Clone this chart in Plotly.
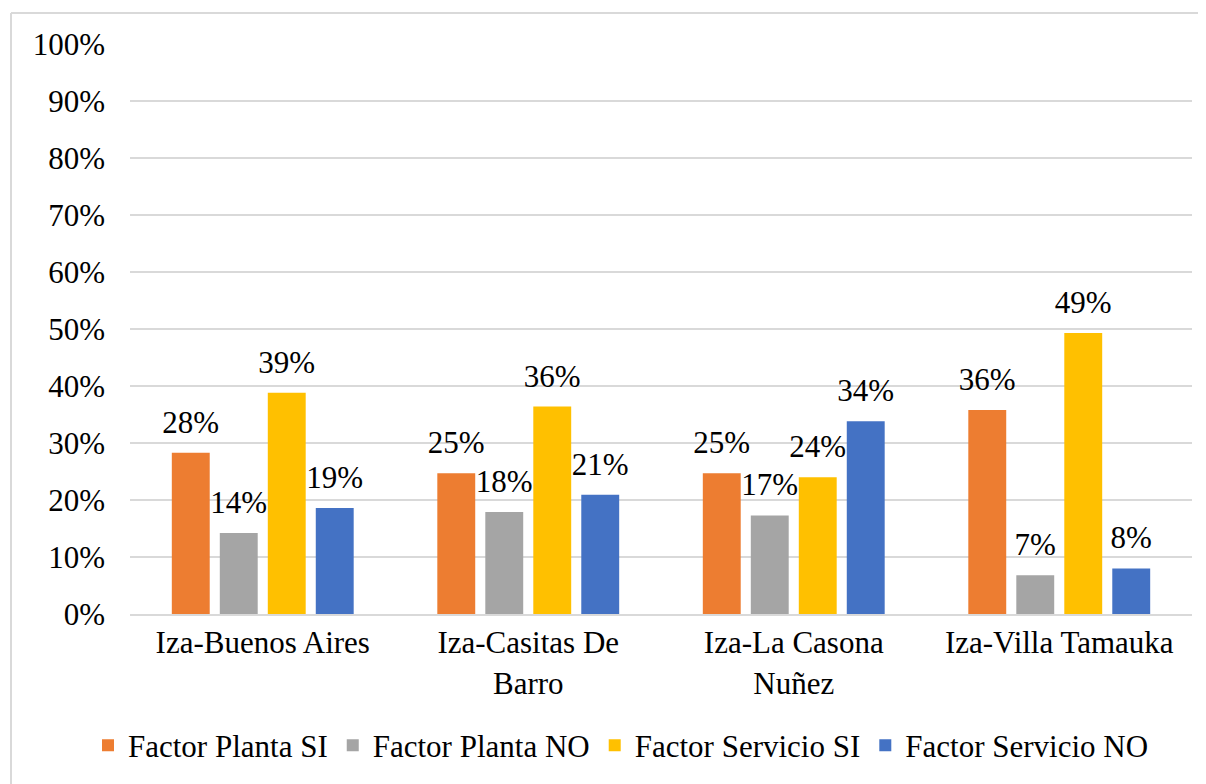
import plotly.graph_objects as go

categories = ["Iza-Buenos Aires", "Iza-Casitas De<br>Barro", "Iza-La Casona<br>Nuñez", "Iza-Villa Tamauka"]
series_names = ["Factor Planta SI", "Factor Planta NO", "Factor Servicio SI", "Factor Servicio NO"]
planta_si = [0.283, 0.247, 0.247, 0.358]
planta_no = [0.142, 0.179, 0.173, 0.068]
servicio_si = [0.388, 0.364, 0.240, 0.493]
servicio_no = [0.186, 0.209, 0.338, 0.080]
colors = ["#ED7D31", "#A5A5A5", "#FFC000", "#4472C4"]
y_ticks = [i / 10 for i in range(11)]

FONT = "Liberation Serif"
FS = 31

# page has an 8px body margin: plot area in page px x 130-1192, y 44-616
W, H = 1198, 776
L, T = 122, 36
R = W - 1184
B = H - 608
PW = W - L - R
PH = H - T - B
LABEL_LIFT = 10 / PH  # extra gap between bar top and its value label

fig = go.Figure()
for i, (name, vals, col) in enumerate(zip(series_names, [planta_si, planta_no, servicio_si, servicio_no], colors)):
    fig.add_trace(go.Bar(
        x=categories, y=vals, name=name, offsetgroup=str(i),
        marker=dict(color=col, line=dict(width=0)),
        hoverinfo="x+y+name",
    ))
    # invisible spacer bar sitting on top of the real bar, carrying the value label
    fig.add_trace(go.Bar(
        x=categories, y=[LABEL_LIFT] * len(vals), base=vals, offsetgroup=str(i),
        marker=dict(color="rgba(0,0,0,0)", line=dict(width=0)),
        text=[f"{v:.0%}" for v in vals], textposition="outside",
        textfont=dict(family=FONT, size=FS, color="#000000"),
        constraintext="none", cliponaxis=False,
        showlegend=False, hoverinfo="skip",
    ))

bx = 3   # border x in figure px
by = 5   # border y in figure px
fig.update_layout(
    width=W, height=H,
    margin=dict(l=L, r=R, t=T, b=B, pad=0),
    paper_bgcolor="white", plot_bgcolor="white",
    barmode="group", bargap=0.277, bargroupgap=0.21,
    font=dict(family=FONT, size=FS, color="#000000"),
    showlegend=True,
    legend=dict(orientation="h", x=(621 - 130) / 1062, xanchor="center",
                y=(616 - 748) / 572, yanchor="middle",
                font=dict(family=FONT, size=FS, color="#000000"),
                traceorder="normal", itemwidth=30),
    xaxis=dict(showgrid=False, showline=True, linecolor="#D9D9D9", linewidth=2,
               ticks="", tickfont=dict(family=FONT, size=FS), fixedrange=True),
    yaxis=dict(range=[0, 1], tickvals=y_ticks, tickformat=".0%", showgrid=True,
               gridcolor="#D9D9D9", gridwidth=2, zeroline=False, showline=False,
               ticks="", ticklabelstandoff=24, tickfont=dict(family=FONT, size=FS)),
    shapes=[
        dict(type="line", xref="paper", yref="paper",
             x0=(bx - L) / PW, x1=(W - L) / PW,
             y0=1 + (T - by) / PH, y1=1 + (T - by) / PH,
             line=dict(color="#D9D9D9", width=2)),
        dict(type="line", xref="paper", yref="paper",
             x0=(bx - L) / PW, x1=(bx - L) / PW,
             y0=1 + (T - by) / PH, y1=-(B + 10) / PH,
             line=dict(color="#D9D9D9", width=2)),
    ],
)

fig.write_html("out.html")
